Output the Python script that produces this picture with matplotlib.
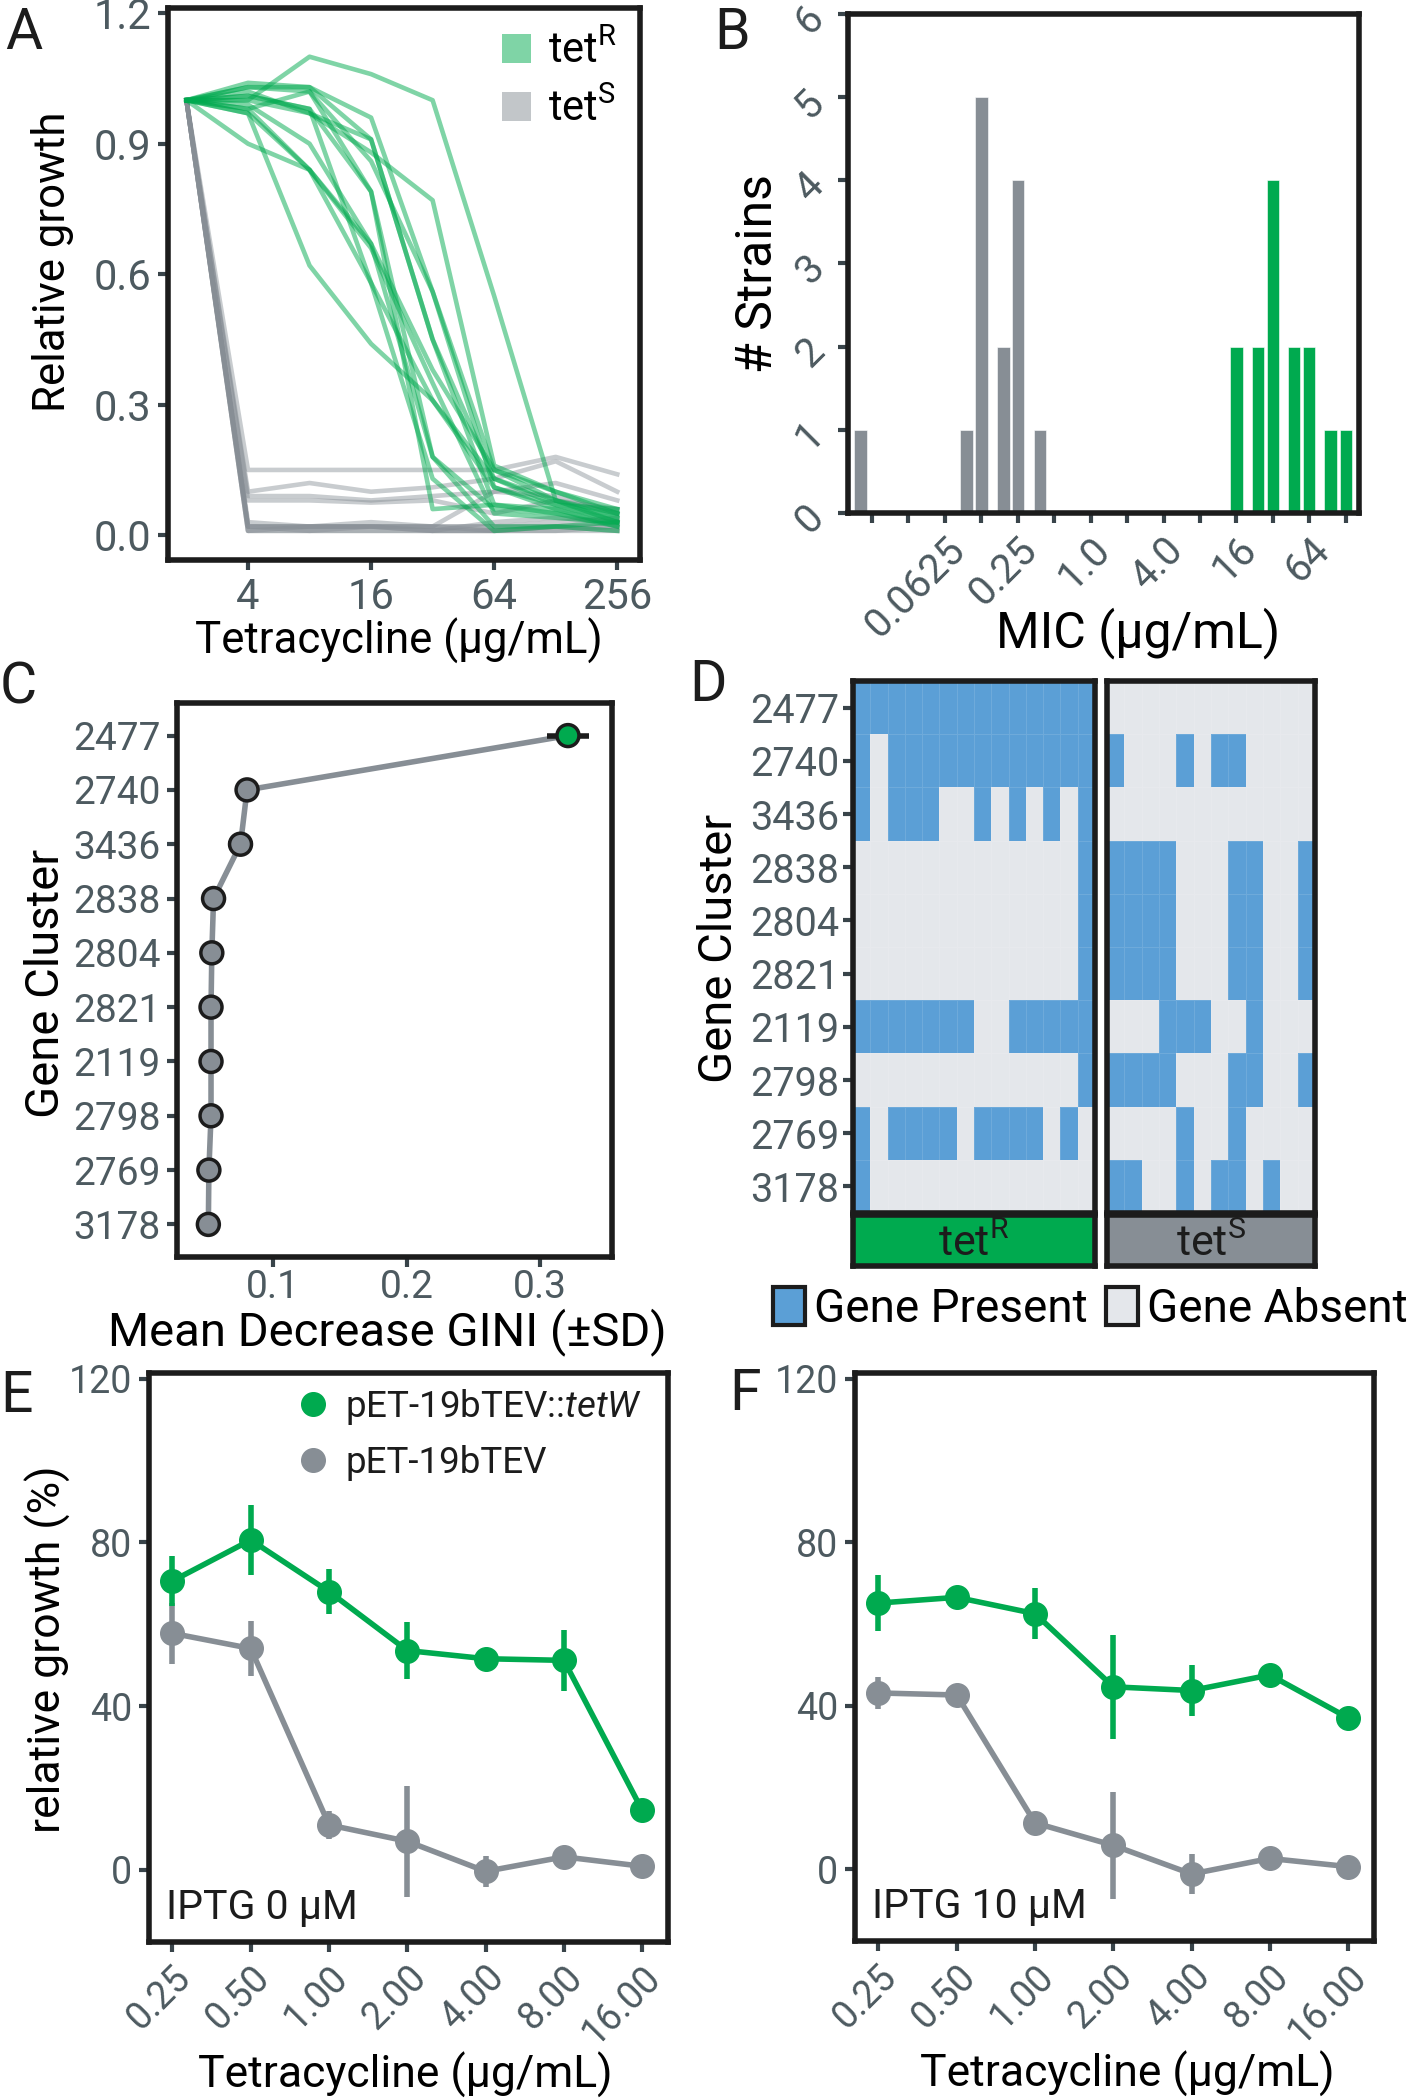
import numpy as np
import matplotlib
matplotlib.use('Agg')
import matplotlib.pyplot as plt
from matplotlib.patches import Patch
from matplotlib.lines import Line2D
from matplotlib.colors import ListedColormap

plt.rcParams['font.family'] = ['Roboto', 'DejaVu Sans']
plt.rcParams['mathtext.fontset'] = 'custom'
plt.rcParams['mathtext.rm'] = 'Roboto'
plt.rcParams['mathtext.it'] = 'Roboto:italic'

# ---------------- data ----------------
conc_A = [2, 4, 8, 16, 32, 64, 128, 256]
tetR_growth = [
    [1.00, 1.00, 1.10, 1.06, 1.00, 0.55, 0.08, 0.05],
    [1.00, 1.03, 1.03, 0.96, 0.56, 0.15, 0.10, 0.05],
    [1.00, 1.04, 1.03, 0.91, 0.45, 0.13, 0.08, 0.04],
    [1.00, 1.00, 0.97, 0.88, 0.77, 0.16, 0.10, 0.06],
    [1.00, 0.98, 1.02, 0.79, 0.06, 0.07, 0.06, 0.05],
    [1.00, 0.99, 0.90, 0.67, 0.18, 0.06, 0.05, 0.04],
    [1.00, 0.90, 0.84, 0.67, 0.38, 0.15, 0.08, 0.03],
    [1.00, 0.97, 0.84, 0.58, 0.31, 0.11, 0.06, 0.02],
    [1.00, 0.97, 0.62, 0.44, 0.31, 0.13, 0.07, 0.03],
    [1.00, 1.01, 0.98, 0.58, 0.13, 0.01, 0.02, 0.03],
    [1.00, 1.02, 0.97, 0.91, 0.45, 0.07, 0.05, 0.02],
    [1.00, 0.98, 0.84, 0.66, 0.35, 0.05, 0.04, 0.03],
    [1.00, 1.03, 1.02, 0.86, 0.56, 0.11, 0.07, 0.06],
    [1.00, 1.01, 0.98, 0.79, 0.18, 0.02, 0.02, 0.01],
]
tetS_growth = [
    [1.00, 0.15, 0.15, 0.15, 0.15, 0.15, 0.18, 0.14],
    [1.00, 0.10, 0.12, 0.10, 0.11, 0.13, 0.17, 0.10],
    [1.00, 0.09, 0.09, 0.08, 0.09, 0.10, 0.12, 0.08],
    [1.00, 0.08, 0.08, 0.075, 0.08, 0.05, 0.08, 0.06],
    [1.00, 0.02, 0.02, 0.02, 0.02, 0.10, 0.09, 0.05],
    [1.00, 0.02, 0.02, 0.03, 0.02, 0.02, 0.03, 0.04],
    [1.00, 0.01, 0.01, 0.02, 0.01, 0.01, 0.02, 0.03],
    [1.00, 0.02, 0.01, 0.01, 0.01, 0.01, 0.01, 0.02],
    [1.00, 0.01, 0.02, 0.02, 0.02, 0.02, 0.02, 0.01],
    [1.00, 0.03, 0.02, 0.02, 0.01, 0.03, 0.04, 0.03],
    [1.00, 0.01, 0.01, 0.01, 0.01, 0.01, 0.01, 0.01],
    [1.00, 0.02, 0.02, 0.02, 0.02, 0.01, 0.02, 0.02],
]

mic_tetS = [0.0125, 0.094, 0.125, 0.19, 0.25, 0.38]
count_tetS = [1, 1, 5, 2, 4, 1]
mic_tetR = [16, 24, 32, 48, 64, 96, 128]
count_tetR = [2, 2, 4, 2, 2, 1, 1]
mic_ticks = [0.015625, 0.03125, 0.0625, 0.125, 0.25, 0.5, 1, 2, 4, 8, 16, 32, 64, 128]
mic_ticklabels = ['', '', '0.0625', '', '0.25', '', '1.0', '', '4.0', '', '16', '', '64', '']

clusters = ['2477', '2740', '3436', '2838', '2804', '2821', '2119', '2798', '2769', '3178']
gini_mean = [0.321, 0.0805, 0.0756, 0.0554, 0.0541, 0.0535, 0.0535, 0.0535, 0.0519, 0.0515]
gini_sd = [0.016, 0.0086, 0.0094, 0.002, 0.0015, 0.0015, 0.0015, 0.0015, 0.0015, 0.0015]

presence_tetR = [
    [1, 1, 1, 1, 1, 1, 1, 1, 1, 1, 1, 1, 1, 1],
    [1, 0, 1, 1, 1, 1, 1, 1, 1, 1, 1, 1, 1, 1],
    [1, 0, 1, 1, 1, 0, 0, 1, 0, 1, 0, 1, 0, 1],
    [0, 0, 0, 0, 0, 0, 0, 0, 0, 0, 0, 0, 0, 1],
    [0, 0, 0, 0, 0, 0, 0, 0, 0, 0, 0, 0, 0, 1],
    [0, 0, 0, 0, 0, 0, 0, 0, 0, 0, 0, 0, 0, 1],
    [1, 1, 1, 1, 1, 1, 1, 0, 0, 1, 1, 1, 1, 1],
    [0, 0, 0, 0, 0, 0, 0, 0, 0, 0, 0, 0, 0, 1],
    [1, 0, 1, 1, 1, 1, 0, 1, 1, 1, 1, 0, 1, 0],
    [1, 0, 0, 0, 0, 0, 0, 0, 0, 0, 0, 0, 0, 0],
]
presence_tetS = [
    [0, 0, 0, 0, 0, 0, 0, 0, 0, 0, 0, 0],
    [1, 0, 0, 0, 1, 0, 1, 1, 0, 0, 0, 0],
    [0, 0, 0, 0, 0, 0, 0, 0, 0, 0, 0, 0],
    [1, 1, 1, 1, 0, 0, 0, 1, 1, 0, 0, 1],
    [1, 1, 1, 1, 0, 0, 0, 1, 1, 0, 0, 1],
    [1, 1, 1, 1, 0, 0, 0, 1, 1, 0, 0, 1],
    [0, 0, 0, 1, 1, 1, 0, 0, 1, 0, 0, 0],
    [1, 1, 1, 1, 0, 0, 0, 1, 1, 0, 0, 1],
    [0, 0, 0, 0, 1, 0, 0, 1, 0, 0, 0, 0],
    [1, 1, 0, 0, 1, 0, 1, 1, 0, 1, 0, 0],
]

tet_conc = [0.25, 0.5, 1, 2, 4, 8, 16]
tet_labels = ['0.25', '0.50', '1.00', '2.00', '4.00', '8.00', '16.00']
E_tetW_mean = [70.6, 80.6, 68.0, 53.6, 51.6, 51.2, 14.6]
E_tetW_sd = [6.0, 8.6, 5.5, 7.0, 1.0, 7.4, 1.0]
E_empty_mean = [57.8, 54.1, 11.0, 7.0, -0.35, 3.2, 0.9]
E_empty_sd = [7.5, 6.7, 3.5, 13.5, 3.7, 1.5, 1.0]
F_tetW_mean = [65.1, 66.5, 62.5, 44.6, 43.7, 47.5, 37.0]
F_tetW_sd = [6.9, 2.5, 6.2, 12.7, 6.3, 1.0, 1.5]
F_empty_mean = [43.1, 42.6, 11.3, 5.8, -1.2, 2.6, 0.6]
F_empty_sd = [4.0, 1.5, 1.5, 13.0, 5.0, 1.0, 1.0]

# ---------------- style ----------------
W, H = 1409, 2100
fig = plt.figure(figsize=(W / 100, H / 100), dpi=100)

GREEN = '#00AA4F'
GREY = '#878E95'
BLUE = '#5B9FD6'
ABSENT = '#E4E7EB'
TICKC = '#4D5A60'
DARK = '#1c1c1c'
LETTER_FS = 41


def rect(x0, y0, x1, y1):
    return [x0 / W, 1 - y1 / H, (x1 - x0) / W, (y1 - y0) / H]


def style(ax, fs, pad=5):
    for s in ax.spines.values():
        s.set_linewidth(4)
        s.set_color(DARK)
    ax.tick_params(length=7, width=3, color='#39444a', labelsize=fs,
                   labelcolor=TICKC, pad=pad)


def letter(x, y, s):
    fig.text(x / W, 1 - y / H, s, fontsize=LETTER_FS, va='baseline', ha='left', color=DARK)


def rot_xlabels(ax):
    for lab in ax.get_xticklabels():
        lab.set_rotation(45)
        lab.set_ha('right')
        lab.set_va('top')
        lab.set_rotation_mode('anchor')


# ---------------- A ----------------
axA = fig.add_axes(rect(168, 8, 640, 560))
for row in tetS_growth:
    axA.plot(conc_A, row, color=GREY, alpha=0.45, lw=3.3)
for row in tetR_growth:
    axA.plot(conc_A, row, color=GREEN, alpha=0.5, lw=3.3)
axA.set_xscale('log', base=2)
axA.set_xlim(2 ** 0.7, 2 ** 8.37)
axA.set_ylim(-0.057, 1.212)
axA.set_xticks([4, 16, 64, 256])
axA.set_xticklabels(['4', '16', '64', '256'])
axA.minorticks_off()
axA.set_yticks([0, 0.3, 0.6, 0.9, 1.2])
axA.set_yticklabels(['0.0', '0.3', '0.6', '0.9', '1.2'])
style(axA, 30)
axA.set_ylabel('Relative growth', fontsize=31.5)
axA.yaxis.set_label_coords(-0.199, 0.54)
axA.set_xlabel('Tetracycline (µg/mL)', fontsize=31.5)
axA.xaxis.set_label_coords(0.49, -0.105)
axA.legend(handles=[Patch(facecolor=GREEN, alpha=0.5), Patch(facecolor=GREY, alpha=0.5)],
           labels=['tet$^{\\mathrm{R}}$', 'tet$^{\\mathrm{S}}$'], loc='upper right',
           frameon=False, fontsize=30, handlelength=0.7, handleheight=0.7,
           handletextpad=0.4, labelspacing=0.4, borderaxespad=0.15)
letter(5, 49, 'A')

# ---------------- B ----------------
axB = fig.add_axes(rect(848, 14, 1359, 513))
bw = 0.34
for mic, cnt, col in [(mic_tetS, count_tetS, GREY), (mic_tetR, count_tetR, GREEN)]:
    m = np.array(mic)
    axB.bar(m * 2 ** (-bw / 2), cnt, width=m * (2 ** (bw / 2) - 2 ** (-bw / 2)),
            align='edge', color=col, edgecolor='white', linewidth=0.4)
axB.set_xscale('log', base=2)
axB.set_xlim(2 ** -6.66, 2 ** 7.365)
axB.set_ylim(0, 6)
axB.set_xticks(mic_ticks)
axB.set_xticklabels(mic_ticklabels)
axB.minorticks_off()
axB.set_yticks(range(7))
style(axB, 29)
rot_xlabels(axB)
for lab in axB.get_yticklabels():
    lab.set_rotation(45)
axB.set_ylabel('# Strains', fontsize=36)
axB.yaxis.set_label_coords(-0.129, 0.48)
axB.set_xlabel('MIC (µg/mL)', fontsize=36)
axB.xaxis.set_label_coords(0.567, -0.188)
letter(714, 49, 'B')

# ---------------- C ----------------
axC = fig.add_axes(rect(177, 703, 612, 1257))
ypos = np.arange(len(clusters))
axC.plot(gini_mean, ypos, color=GREY, lw=4, zorder=1)
axC.errorbar(gini_mean, ypos, xerr=gini_sd, fmt='none', ecolor=DARK, elinewidth=4,
             capsize=0, zorder=2)
axC.scatter(gini_mean, ypos, s=250, c=[GREEN] + [GREY] * (len(clusters) - 1),
            edgecolors=DARK, linewidths=2.5, zorder=3)
axC.set_ylim(len(clusters) - 0.4, -0.6)
axC.set_yticks(ypos)
axC.set_yticklabels(clusters)
axC.set_xlim(0.028, 0.354)
axC.set_xticks([0.1, 0.2, 0.3])
style(axC, 28)
axC.tick_params(axis='x', pad=2)
axC.set_ylabel('Gene Cluster', fontsize=34)
axC.yaxis.set_label_coords(-0.25, 0.494)
axC.set_xlabel('Mean Decrease GINI (±SD)', fontsize=34)
axC.xaxis.set_label_coords(0.483, -0.093)
letter(0, 704, 'C')

# ---------------- D ----------------
cmap = ListedColormap([ABSENT, BLUE])
axDL = fig.add_axes(rect(853, 681, 1095, 1213))
axDR = fig.add_axes(rect(1107, 681, 1315, 1213))
for ax, mat in [(axDL, presence_tetR), (axDR, presence_tetS)]:
    ax.pcolormesh(np.array(mat), cmap=cmap, vmin=0, vmax=1,
                  edgecolors=(1, 1, 1, 0.12), linewidth=0.6)
    ax.set_ylim(len(clusters), 0)
    ax.set_xticks([])
    style(ax, 28.5)
axDL.set_yticks(np.arange(len(clusters)) + 0.5)
axDL.set_yticklabels(clusters)
axDL.tick_params(pad=3)
axDR.set_yticks([])
axDL.set_ylabel('Gene Cluster', fontsize=34)
axDL.yaxis.set_label_coords(-0.463, 0.498)

for (x0, x1), col, lab in [((853, 1095), GREEN, 'tet$^{\\mathrm{R}}$'),
                           ((1107, 1315), GREY, 'tet$^{\\mathrm{S}}$')]:
    sax = fig.add_axes(rect(x0, 1215, x1, 1266))
    sax.set_facecolor(col)
    sax.set_xticks([])
    sax.set_yticks([])
    for s in sax.spines.values():
        s.set_linewidth(4)
        s.set_color(DARK)
    sax.text(0.5, 0.42, lab, transform=sax.transAxes, ha='center', va='center',
             fontsize=31, color=DARK)

fig.legend(handles=[Patch(facecolor=BLUE, edgecolor=DARK, linewidth=3),
                    Patch(facecolor=ABSENT, edgecolor=DARK, linewidth=3)],
           labels=['Gene Present', 'Gene Absent'], loc='upper left',
           bbox_to_anchor=(773 / W, 1 - 1287 / H), ncol=2, frameon=False,
           fontsize=33, handlelength=0.7, handleheight=0.9,
           handletextpad=0.2, columnspacing=0.4, borderaxespad=0, borderpad=0)
letter(689, 701, 'D')


# ---------------- E / F ----------------
def growth_panel(ax, gm, gs, em, es, text, xlab_x, ylabel):
    ax.errorbar(tet_conc, em, yerr=es, color=GREY, lw=4, elinewidth=4, marker='o',
                ms=17, capsize=0, zorder=2)
    ax.errorbar(tet_conc, gm, yerr=gs, color=GREEN, lw=4, elinewidth=4, marker='o',
                ms=17, capsize=0, zorder=3)
    ax.set_xscale('log', base=2)
    ax.set_xlim(0.25 * 2 ** -0.3, 16 * 2 ** 0.33)
    ax.set_ylim(-17.6, 121.4)
    ax.set_xticks(tet_conc)
    ax.set_xticklabels(tet_labels)
    ax.minorticks_off()
    ax.set_yticks([0, 40, 80, 120])
    style(ax, 27)
    rot_xlabels(ax)
    ax.text(0.033, 0.04, text, transform=ax.transAxes, fontsize=29.5, color=DARK,
            ha='left', va='baseline')
    ax.set_xlabel('Tetracycline (µg/mL)', fontsize=32)
    ax.xaxis.set_label_coords(xlab_x, -0.193)
    if ylabel:
        ax.set_ylabel('relative growth (%)', fontsize=32)
        ax.yaxis.set_label_coords(-0.150, 0.515)


axE = fig.add_axes(rect(149, 1373, 668, 1942))
growth_panel(axE, E_tetW_mean, E_tetW_sd, E_empty_mean, E_empty_sd, 'IPTG 0 µM', 0.493, True)
axE.legend(handles=[Line2D([], [], color=GREEN, marker='o', ls='none', ms=17),
                    Line2D([], [], color=GREY, marker='o', ls='none', ms=17)],
           labels=['pET-19bTEV::$\\mathit{tetW}$', 'pET-19bTEV'], loc='upper left',
           bbox_to_anchor=(0.28, 0.975), frameon=False, fontsize=26.5,
           handlelength=1.0, handletextpad=0.38, borderpad=0, borderaxespad=0,
           labelspacing=0.48, labelcolor=DARK)
letter(0, 1412, 'E')

axF = fig.add_axes(rect(855, 1373, 1374, 1941))
growth_panel(axF, F_tetW_mean, F_tetW_sd, F_empty_mean, F_empty_sd, 'IPTG 10 µM', 0.524, False)
letter(729, 1410, 'F')

fig.savefig('out.png', dpi=100)
